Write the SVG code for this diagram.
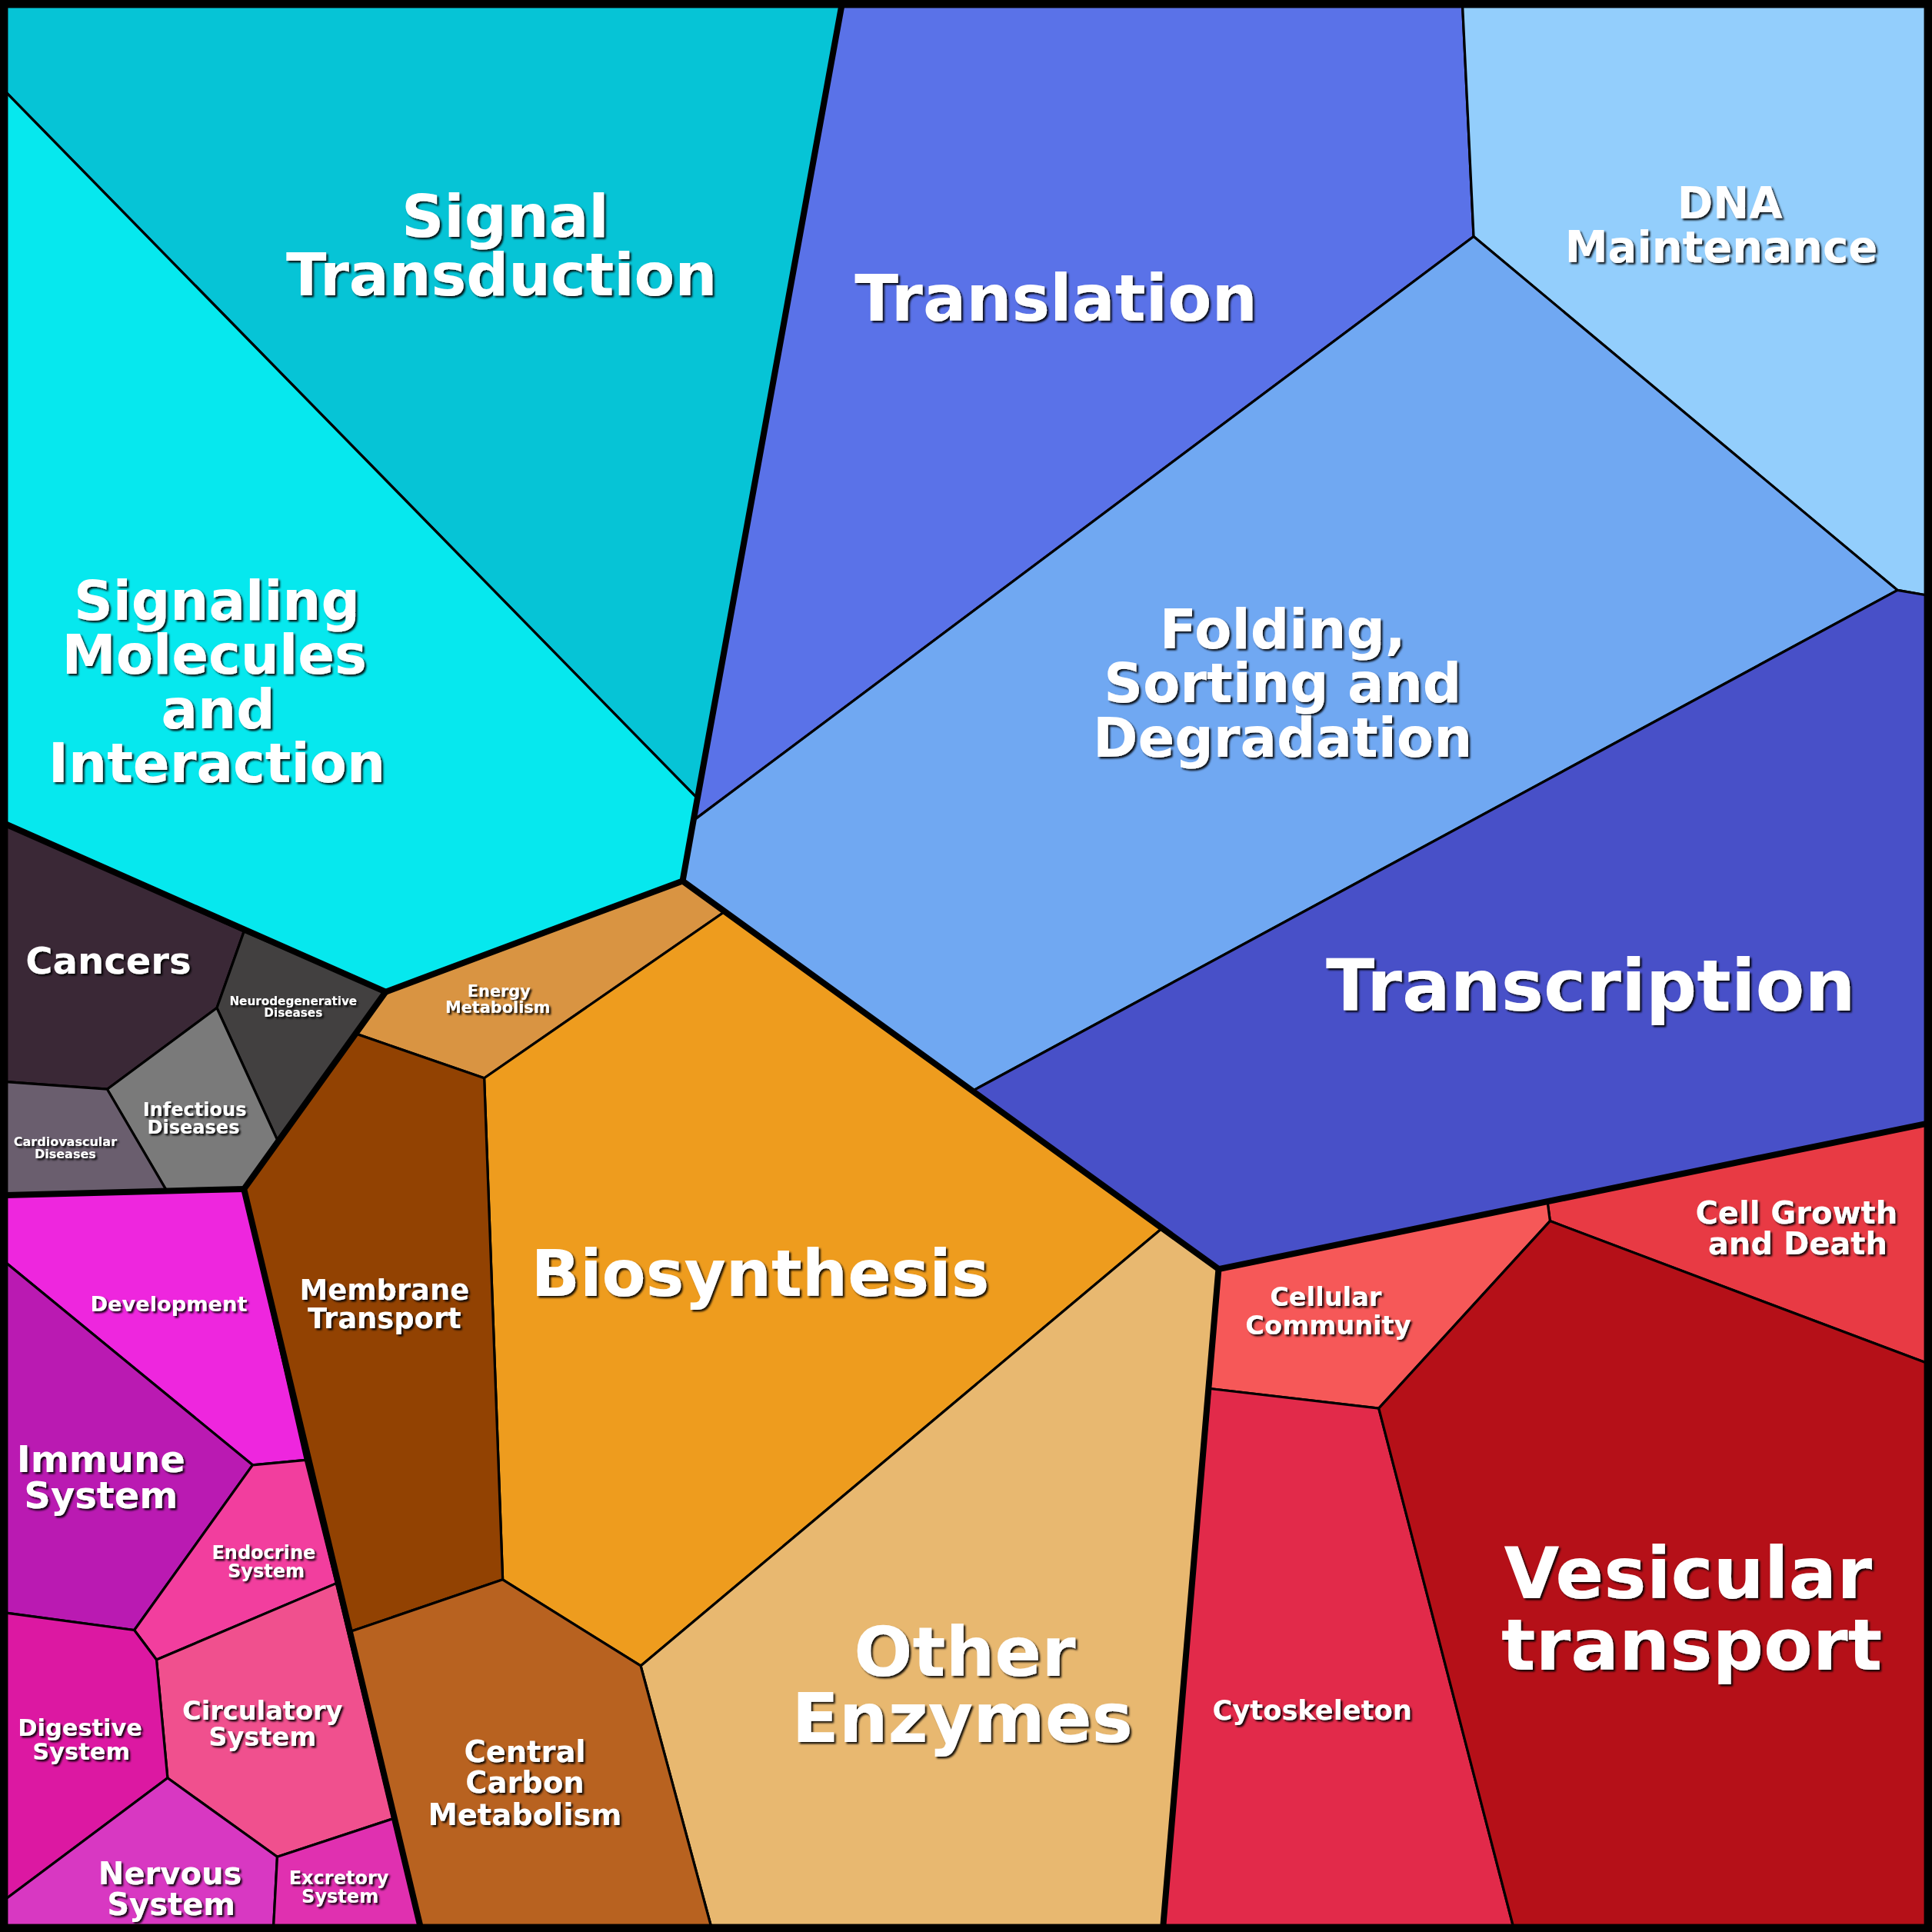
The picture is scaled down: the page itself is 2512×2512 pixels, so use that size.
<svg xmlns="http://www.w3.org/2000/svg" width="2512" height="2512" viewBox="0 0 2512 2512">
<style>
.c{stroke:#000;stroke-width:2;stroke-linejoin:round}
.t{font-family:"DejaVu Sans",sans-serif;font-weight:bold;fill:#fff;text-anchor:middle;filter:url(#sh)}
.k{fill:none;stroke:#000;stroke-width:5;stroke-linejoin:round;stroke-linecap:round}
</style>
<defs><filter id="sh" x="-10%" y="-10%" width="120%" height="130%"><feDropShadow dx="1.5" dy="1.5" stdDeviation="0.6" flood-color="#000" flood-opacity="0.9"/></filter></defs>
<rect width="2512" height="2512" fill="#000"/>
<g transform="scale(1.60204)">
<g id="signal-transduction"><polygon class="c" fill="#06C4D6" points="5,5 683,5 566,648 5,75"/><text class="t" font-size="48"><tspan x="410" y="192">Signal</tspan><tspan x="407" y="240">Transduction</tspan></text></g>
<g id="signaling-molecules"><polygon class="c" fill="#06E8EE" points="5,75 566,648 554,715 313,805 5,669"/><text class="t" font-size="44"><tspan x="176" y="503">Signaling</tspan><tspan x="174" y="547">Molecules</tspan><tspan x="177" y="591">and</tspan><tspan x="176" y="635">Interaction</tspan></text></g>
<g id="translation"><polygon class="c" fill="#5A72E8" points="683,5 1187,5 1196,192 564,665 566,648"/><text class="t" font-size="52" x="857" y="260">Translation</text></g>
<g id="dna-maintenance"><polygon class="c" fill="#93CEFC" points="1187,5 1563,5 1563,483 1540,479 1196,192"/><text class="t" font-size="35"><tspan x="1404" y="177">DNA</tspan><tspan x="1397" y="213">Maintenance</tspan></text></g>
<g id="folding"><polygon class="c" fill="#70A8F2" points="1196,192 1540,479 790,885 554,715 564,665"/><text class="t" font-size="44"><tspan x="1041" y="526">Folding,</tspan><tspan x="1041" y="570">Sorting and</tspan><tspan x="1041" y="614">Degradation</tspan></text></g>
<g id="transcription"><polygon class="c" fill="#4850C8" points="1540,479 1563,483 1563,912 989,1030 790,885"/><text class="t" font-size="58" x="1291" y="820">Transcription</text></g>
<g id="energy-metabolism"><polygon class="c" fill="#D99442" points="313,805 554,715 588,740 393,875 289,839"/><text class="t" font-size="13"><tspan x="405" y="809">Energy</tspan><tspan x="404" y="822">Metabolism</tspan></text></g>
<g id="biosynthesis"><polygon class="c" fill="#EE9C1E" points="393,875 588,740 943,997 520,1352 408,1282"/><text class="t" font-size="52" x="617" y="1052">Biosynthesis</text></g>
<g id="other-enzymes"><polygon class="c" fill="#E8B870" points="943,997 989,1030 944,1563 577,1563 520,1352"/><text class="t" font-size="56"><tspan x="783" y="1360">Other</tspan><tspan x="781" y="1414">Enzymes</tspan></text></g>
<g id="membrane-transport"><polygon class="c" fill="#924202" points="289,839 393,875 408,1282 285,1324 198,965"/><text class="t" font-size="23"><tspan x="312" y="1055">Membrane</tspan><tspan x="312" y="1078">Transport</tspan></text></g>
<g id="central-carbon"><polygon class="c" fill="#B86220" points="285,1324 408,1282 520,1352 577,1563 341,1563"/><text class="t" font-size="24"><tspan x="426" y="1430">Central</tspan><tspan x="426" y="1455">Carbon</tspan><tspan x="426" y="1481">Metabolism</tspan></text></g>
<g id="cancers"><polygon class="c" fill="#3A2836" points="5,669 198,756 176,818 87,884 5,878"/><text class="t" font-size="30" x="88" y="790">Cancers</text></g>
<g id="neurodegenerative"><polygon class="c" fill="#424040" points="198,756 313,805 225,925 176,818"/><text class="t" font-size="9.5"><tspan x="238" y="816">Neurodegenerative</tspan><tspan x="238" y="825">Diseases</tspan></text></g>
<g id="infectious"><polygon class="c" fill="#7A7A7A" points="176,818 225,925 198,965 135,966 87,884"/><text class="t" font-size="15"><tspan x="158" y="906">Infectious</tspan><tspan x="157" y="920">Diseases</tspan></text></g>
<g id="cardiovascular"><polygon class="c" fill="#6A5E6E" points="5,878 87,884 135,966 5,970"/><text class="t" font-size="10"><tspan x="53" y="930">Cardiovascular</tspan><tspan x="53" y="940">Diseases</tspan></text></g>
<g id="development"><polygon class="c" fill="#EE26DE" points="5,970 198,965 248,1185 205,1189 5,1025"/><text class="t" font-size="17" x="137" y="1064">Development</text></g>
<g id="immune"><polygon class="c" fill="#BA1AB2" points="5,1025 205,1189 109,1323 5,1309"/><text class="t" font-size="30"><tspan x="82" y="1195">Immune</tspan><tspan x="82" y="1224">System</tspan></text></g>
<g id="endocrine"><polygon class="c" fill="#F23E9E" points="205,1189 248,1185 273,1285 127,1347 109,1323"/><text class="t" font-size="15"><tspan x="214" y="1265">Endocrine</tspan><tspan x="216" y="1280">System</tspan></text></g>
<g id="circulatory"><polygon class="c" fill="#F0508E" points="127,1347 273,1285 319,1476 225,1507 136,1443"/><text class="t" font-size="21"><tspan x="213" y="1396">Circulatory</tspan><tspan x="213" y="1417">System</tspan></text></g>
<g id="digestive"><polygon class="c" fill="#DC18A2" points="5,1309 109,1323 127,1347 136,1443 5,1541"/><text class="t" font-size="19"><tspan x="65" y="1409">Digestive</tspan><tspan x="66" y="1428">System</tspan></text></g>
<g id="nervous"><polygon class="c" fill="#D838C2" points="5,1541 136,1443 225,1507 222,1563 5,1563"/><text class="t" font-size="25"><tspan x="138" y="1529">Nervous</tspan><tspan x="139" y="1554">System</tspan></text></g>
<g id="excretory"><polygon class="c" fill="#E030B0" points="225,1507 319,1476 341,1563 222,1563"/><text class="t" font-size="15"><tspan x="275" y="1529">Excretory</tspan><tspan x="276" y="1544">System</tspan></text></g>
<g id="cell-growth"><polygon class="c" fill="#E83A44" points="1256,976 1563,912 1563,1106 1258,991"/><text class="t" font-size="25"><tspan x="1458" y="993">Cell Growth</tspan><tspan x="1459" y="1018">and Death</tspan></text></g>
<g id="cellular-community"><polygon class="c" fill="#F65858" points="989,1030 1256,976 1258,991 1119,1143 982,1127"/><text class="t" font-size="21"><tspan x="1076" y="1060">Cellular</tspan><tspan x="1078" y="1083">Community</tspan></text></g>
<g id="cytoskeleton"><polygon class="c" fill="#E22A4A" points="982,1127 1119,1143 1228,1563 944,1563"/><text class="t" font-size="22" x="1065" y="1396">Cytoskeleton</text></g>
<g id="vesicular"><polygon class="c" fill="#B51018" points="1119,1143 1258,991 1563,1106 1563,1563 1228,1563"/><text class="t" font-size="58"><tspan x="1370" y="1297">Vesicular</tspan><tspan x="1373" y="1355">transport</tspan></text></g>
<g id="connectors">
<polyline class="k" points="683,5 566,648 554,715 313,805 5,669"/>
<polyline class="k" points="554,715 989,1030 1563,912"/>
<polyline class="k" points="989,1030 944,1563"/>
<polyline class="k" points="313,805 198,965 341,1563"/>
<polyline class="k" points="5,970 198,965"/>
<rect x="3" y="3" width="1562" height="1562" fill="none" stroke="#000" stroke-width="7"/>
</g>
</g>
</svg>
